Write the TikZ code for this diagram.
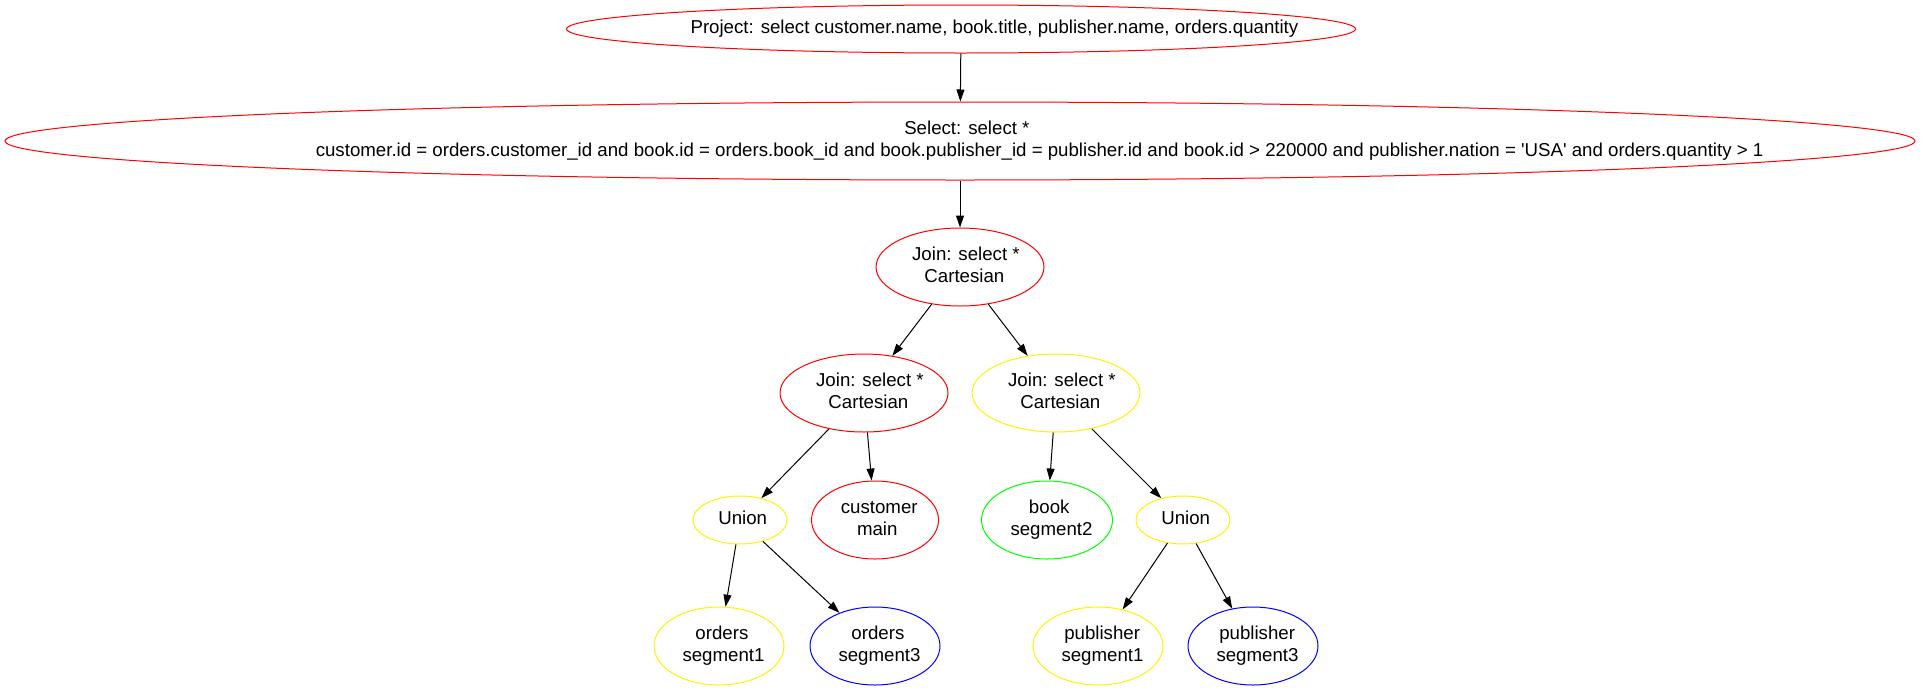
\documentclass[tikz,border=0pt]{standalone}
\usepackage{fontspec}
\setmainfont{Liberation Sans}
\usetikzlibrary{shapes.geometric,arrows.meta}
\newsavebox{\gvbox}
\newcommand{\gvline}[1]{\sbox{\gvbox}{#1}\hspace*{0.11\wd\gvbox}\usebox{\gvbox}}
\newcommand{\nodetext}[1]{\makebox[0pt]{\begin{tabular}{@{}c@{}}#1\end{tabular}}}
\tikzset{
  plan/.style={ellipse, draw=#1, line width=1pt, inner sep=0pt, font=\fontsize{18.67}{22}\selectfont},
  edge/.style={-{Triangle[length=12pt,width=8pt]}, line width=1pt}
}
\begin{document}
\begin{tikzpicture}[x=1pt, y=-1pt]
        \useasboundingbox (0,0) rectangle (1921,691);
        \node[plan=red, minimum width=789, minimum height=48] (project) at (961,29) {\nodetext{\gvline{Project: select customer.name, book.title, publisher.name, orders.quantity}}};
        \node[plan=red, minimum width=1910, minimum height=78] (select) at (960,141) {\nodetext{\gvline{Select: select *}\\\gvline{customer.id = orders.customer\_id and book.id = orders.book\_id and book.publisher\_id = publisher.id and book.id > 220000 and publisher.nation = \textquotesingle USA\textquotesingle{} and orders.quantity > 1}}};

        \node[plan=red, minimum width=168, minimum height=78] (join1) at (960,267) {\nodetext{\gvline{Join: select *}\\\gvline{Cartesian}}};
        \node[plan=red, minimum width=168, minimum height=78] (join2) at (864,393) {\nodetext{\gvline{Join: select *}\\\gvline{Cartesian}}};
        \node[plan=yellow, minimum width=168, minimum height=78] (join3) at (1056,393) {\nodetext{\gvline{Join: select *}\\\gvline{Cartesian}}};

        \node[plan=yellow, minimum width=94, minimum height=48] (union1) at (740,520) {\nodetext{\gvline{Union}}};
        \node[plan=red, minimum width=127, minimum height=78] (customer) at (875,520) {\nodetext{\gvline{customer}\\\gvline{main}}};
        \node[plan=green, minimum width=131, minimum height=78] (book) at (1047,520) {\nodetext{\gvline{book}\\\gvline{segment2}}};
        \node[plan=yellow, minimum width=94, minimum height=48] (union2) at (1183,520) {\nodetext{\gvline{Union}}};

        \node[plan=yellow, minimum width=130, minimum height=78] (orders1) at (719,646) {\nodetext{\gvline{orders}\\\gvline{segment1}}};
        \node[plan=blue, minimum width=130, minimum height=78] (orders3) at (875,646) {\nodetext{\gvline{orders}\\\gvline{segment3}}};
        \node[plan=yellow, minimum width=130, minimum height=78] (pub1) at (1098,646) {\nodetext{\gvline{publisher}\\\gvline{segment1}}};
        \node[plan=blue, minimum width=130, minimum height=78] (pub3) at (1253,646) {\nodetext{\gvline{publisher}\\\gvline{segment3}}};

        \draw[edge] (project) -- (select);
        \draw[edge] (select) -- (join1);
        \draw[edge] (join1) -- (join2);
        \draw[edge] (join1) -- (join3);
        \draw[edge] (join2) -- (union1);
        \draw[edge] (join2) -- (customer);
        \draw[edge] (join3) -- (book);
        \draw[edge] (join3) -- (union2);
        \draw[edge] (union1) -- (orders1);
        \draw[edge] (union1) -- (orders3);
        \draw[edge] (union2) -- (pub1);
        \draw[edge] (union2) -- (pub3);
    \end{tikzpicture}
\end{document}
